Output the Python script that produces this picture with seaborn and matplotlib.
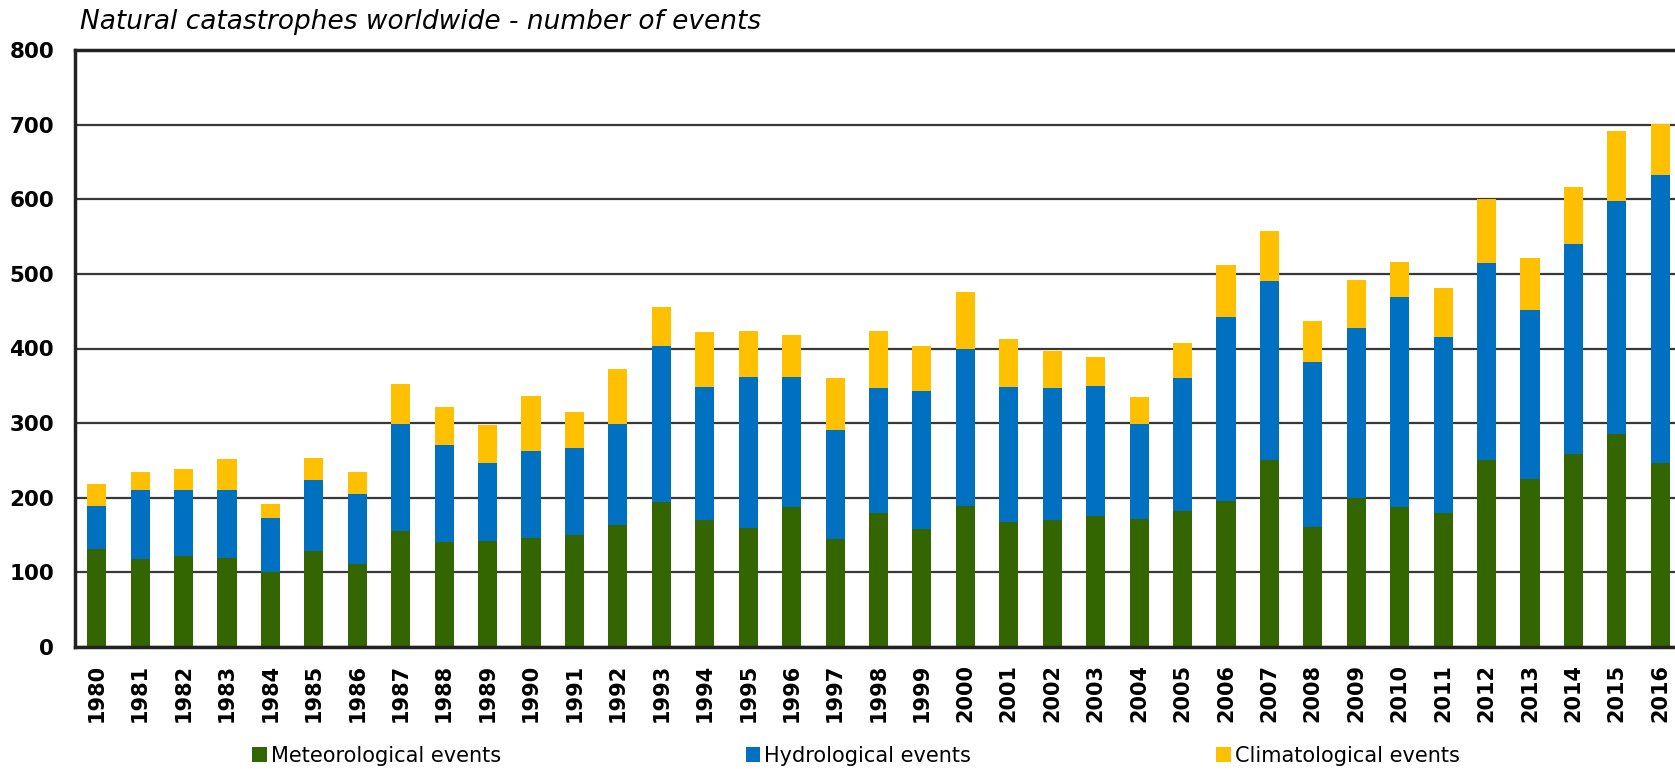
import numpy as np
import matplotlib
matplotlib.use("Agg")
import matplotlib.pyplot as plt
from matplotlib.patches import Patch
import seaborn as sns

# data (number of events per year)
years = [str(y) for y in range(1980, 2017)]
meteorological = [131, 118, 122, 119, 100, 128, 111, 155, 141, 142, 146, 150, 164,
                  194, 170, 160, 187, 145, 180, 158, 189, 168, 170, 176, 172, 182,
                  195, 250, 161, 200, 188, 179, 251, 225, 258, 285, 246]
hydrological = [58, 92, 89, 92, 73, 96, 94, 144, 130, 104, 117, 116, 135,
                209, 179, 202, 175, 146, 167, 185, 211, 181, 177, 174, 127, 178,
                247, 241, 221, 227, 281, 236, 264, 226, 282, 313, 386]
climatological = [30, 25, 27, 41, 19, 29, 29, 53, 51, 51, 73, 49, 73,
                  52, 73, 62, 56, 69, 77, 61, 76, 64, 49, 38, 36, 48,
                  70, 67, 55, 65, 47, 66, 86, 70, 77, 94, 69]
series_names = ["Meteorological events", "Hydrological events", "Climatological events"]
colors = ["#336600", "#0070C0", "#FFC000"]

sns.set_style("white")
plt.rcParams['font.family'] = ['DejaVu Sans']
plt.rcParams['text.color'] = 'black'
plt.rcParams['xtick.color'] = 'black'
plt.rcParams['ytick.color'] = 'black'

fig = plt.figure(figsize=(16.75, 7.69), dpi=100)
ax = fig.add_axes([75 / 1675, (769 - 647) / 769, (1682 - 75) / 1675, (647 - 50) / 769])

# stacked bars: draw cumulative totals from the top down
met = np.array(meteorological)
hyd = met + np.array(hydrological)
tot = hyd + np.array(climatological)
for vals, col in zip([tot, hyd, met], colors[::-1]):
    sns.barplot(x=years, y=vals, color=col, saturation=1, width=0.44,
                linewidth=0, ax=ax, errorbar=None)

ax.set_ylim(0, 800)
ax.set_xlim(-0.5, len(years) - 0.5)
ax.set_yticks(range(0, 801, 100))
ax.set_xlabel("")
ax.set_ylabel("")

ax.yaxis.grid(True, color="#383838", linewidth=1.6)
ax.set_axisbelow(True)
for side in ["left", "bottom", "top"]:
    ax.spines[side].set_visible(True)
    ax.spines[side].set_color("#222222")
    ax.spines[side].set_linewidth(2.5)
ax.spines["right"].set_visible(False)

ax.set_xticks(np.arange(-0.5, len(years), 1), minor=True)
ax.tick_params(axis="x", which="minor", length=7, width=1.5, color="#333333", direction="out")
ax.tick_params(axis="x", which="major", length=0, pad=12, labelsize=15, labelrotation=90)
ax.tick_params(axis="y", length=0, pad=15, labelsize=15.5)
for lbl in ax.get_xticklabels() + ax.get_yticklabels():
    lbl.set_fontweight("bold")

fig.text(80 / 1675, 1 - 22 / 769, "Natural catastrophes worldwide - number of events",
         fontsize=19, fontstyle="italic", ha="left", va="center")

handles = [Patch(facecolor=c, edgecolor="none") for c in colors]
fig.legend(handles, series_names, loc="center", bbox_to_anchor=(0.511, 13 / 769),
           ncol=3, frameon=False, fontsize=15, handlelength=0.7, handleheight=0.7,
           handletextpad=0.2, columnspacing=11.75)

fig.savefig("out.png", dpi=100)
